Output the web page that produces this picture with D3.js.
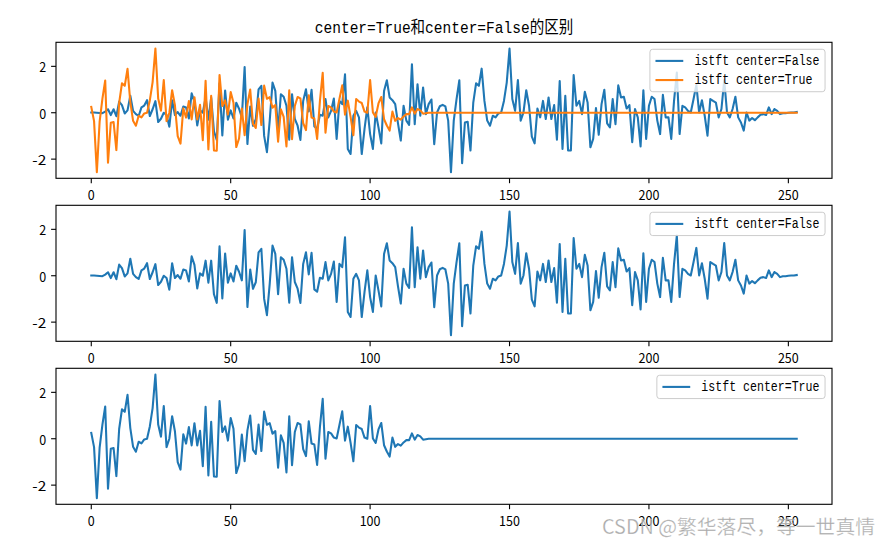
<!DOCTYPE html>
<html><head><meta charset="utf-8">
<script src="https://cdn.jsdelivr.net/npm/d3@7"></script>
<style>body{margin:0;background:#fff}svg{display:block}</style>
</head><body><svg id="c" width="890" height="546"></svg>
<script>
// ---------------- data ----------------
const centerFalse = [
 0.01, 0.01, 0.00, -0.01, -0.02, 0.05, 0.15, -0.10, 0.15, -0.15,
 0.48, 0.33, -0.03, 0.10, 0.73, 0.08, -0.06, -0.14, 0.23, 0.31,
 0.54, -0.14, 0.15, 0.50, -0.40, -0.26, 0.00, -0.10, -0.60, 0.54,
 -0.10, 0.03, -0.13, 0.27, 0.23, -0.25, 0.84, 0.47, -0.55, 0.10,
 0.00, 0.65, -0.30, 0.65, -0.80, -1.17, 1.27, -0.98, 0.96, -0.30,
 0.10, -0.25, 0.43, 0.17, -0.20, 1.97, -1.35, 0.27, -0.56, -0.28,
 1.01, 1.16, -1.00, -1.70, -0.34, 1.30, 0.94, -0.80, 0.80, 0.69,
 0.30, -1.16, 0.80, -0.27, -0.56, -1.17, 0.51, 1.01, 0.06, 0.99,
 -0.59, -0.69, -0.09, -0.13, 0.59, -0.20, 0.08, 0.61, -1.13, 0.51,
 0.37, 1.66, -1.56, -1.78, -0.13, 0.08, -0.20, -1.78, -0.70, 0.23,
 -0.92, -1.56, 0.01, -0.63, -1.32, 0.94, 1.40, 0.66, 0.54, 0.37,
 -0.46, -1.20, 0.30, -0.34, -0.52, 2.09, -0.49, 1.23, -0.13, 1.09,
 -0.06, 0.37, 0.57, -1.36, 0.01, 0.28, 0.34, 0.27, -0.34, -2.56,
 -0.34, 0.59, 1.40, -2.18, -0.42, -0.39, -1.63, 0.44, 1.27, 1.16,
 1.90, 0.51, -0.34, -0.56, -0.13, -0.20, -0.03, 0.01, 0.51, 1.30,
 2.77, 0.59, 0.08, 1.41, -0.34, 0.01, 0.97, 0.30, -1.03, -1.32,
 0.18, -0.20, 0.51, -0.27, 0.66, -0.27, 0.33, -1.16, 1.37, -1.56,
 0.73, -1.63, -1.63, 1.62, 0.30, 0.51, -0.06, 0.90, 0.44, -1.49,
 -1.13, 0.20, -0.95, 0.37, 0.99, -0.46, -0.63, 0.59, -0.49, 1.18,
 0.66, 0.69, 0.18, 0.33, -1.27, 0.16, -0.20, -1.45, 0.97, -1.13,
 0.30, 0.69, 0.59, -0.34, -0.92, 0.77, -0.20, -0.20, -1.13, 0.51,
 1.73, -0.92, 0.30, 0.23, 0.08, 0.01, 0.59, 1.20, 0.01, 0.54,
 -0.13, -0.99, 0.59, 0.51, 0.44, -0.20, 0.16, 1.41, 0.01, -0.20,
 0.16, 0.69, -0.20, -0.42, -0.77, 0.01, -0.34, -0.23, -0.32, -0.20,
 -0.09, -0.06, -0.10, 0.23, -0.06, 0.16, 0.08, -0.06, -0.02, -0.02,
 0.00, 0.01, 0.01, 0.03
];
const centerTrue = [
 0.25, -0.36, -2.56, -0.38, 0.61, 1.39, -2.15, -0.43, -0.40, -1.61,
 0.42, 1.27, 1.16, 1.89, 0.46, -0.35, -0.56, -0.13, -0.20, -0.03,
 0.00, 0.53, 1.32, 2.77, 0.61, 0.09, 1.41, -0.36, 0.00, 0.97,
 0.32, -1.01, -1.33, 0.19, -0.21, 0.50, -0.29, 0.67, -0.29, 0.34,
 -1.18, 1.38, -1.58, 0.73, -1.63, -1.64, 1.63, 0.29, 0.53, -0.08,
 0.89, 0.43, -1.48, -1.11, 0.18, -0.97, 0.36, 1.00, -0.48, -0.65,
 0.61, -0.53, 1.17, 0.60, 0.67, 0.22, 0.33, -1.25, 0.15, -0.18,
 -1.45, 0.97, -1.14, 0.29, 0.68, 0.62, -0.45, -0.75, 0.75, -0.21,
 -0.25, -1.13, 0.50, 1.72, -0.86, 0.29, 0.23, 0.05, 0.01, 0.59,
 1.18, -0.08, 0.52, -0.18, -0.97, 0.59, 0.48, 0.42, 0.05, 0.00,
 1.41, 0.01, -0.18, 0.40, 0.68, -0.28, -0.55, -0.77, 0.05, -0.35,
 -0.23, -0.30, -0.16, -0.06, -0.06, 0.23, -0.04, 0.16, 0.10, -0.04,
 -0.02, 0.00, 0, 0, 0, 0, 0, 0, 0, 0,
 0, 0, 0, 0, 0, 0, 0, 0, 0, 0,
 0, 0, 0, 0, 0, 0, 0, 0, 0, 0,
 0, 0, 0, 0, 0, 0, 0, 0, 0, 0,
 0, 0, 0, 0, 0, 0, 0, 0, 0, 0,
 0, 0, 0, 0, 0, 0, 0, 0, 0, 0,
 0, 0, 0, 0, 0, 0, 0, 0, 0, 0,
 0, 0, 0, 0, 0, 0, 0, 0, 0, 0,
 0, 0, 0, 0, 0, 0, 0, 0, 0, 0,
 0, 0, 0, 0, 0, 0, 0, 0, 0, 0,
 0, 0, 0, 0, 0, 0, 0, 0, 0, 0,
 0, 0, 0, 0, 0, 0, 0, 0, 0, 0,
 0, 0, 0, 0, 0, 0, 0, 0, 0, 0,
 0, 0, 0, 0
];
const xTicks = [0, 50, 100, 150, 200, 250];
const yTicks = [-2, 0, 2];
const titleText = "center=True和center=False的区别";
const labelFalse = "istft center=False";
const labelTrue = "istft center=True";
const watermarkText = "CSDN @繁华落尽，等一世真情";
const colorFalse = "#1f77b4";
const colorTrue = "#ff7f0e";

// ---------------- layout ----------------
const svg = d3.select("#c");
const W = 890, H = 546;
svg.append("rect").attr("width", W).attr("height", H).attr("fill", "#fff");
const FONT = "'Noto Sans CJK SC','Noto Sans',sans-serif";
const MONO = "'Liberation Mono','DejaVu Sans Mono','Noto Sans CJK SC',monospace";
const FS = 13.9;           // 10pt
const axLeft = 56, axRight = 832, axH = 136;
const panelTops = [42.3, 205.3, 368.3];

// SimHei-like metrics: latin half width, CJK full width
function simWidth(s, fs) {
  let w = 0;
  for (const ch of s) w += /[\u2E80-\uFFEF]/.test(ch) ? fs : fs * 0.5;
  return w;
}
function addText(g, s, x, y, fs, anchor, opts = {}) {
  return g.append("text").attr("x", x).attr("y", y)
    .attr("font-family", opts.family || FONT).attr("font-size", fs)
    .attr("text-anchor", anchor).attr("dominant-baseline", "central")
    .attr("fill", opts.fill || "#000")
    .attr("textLength", opts.width || simWidth(s, fs))
    .attr("lengthAdjust", "spacingAndGlyphs")
    .text(s);
}

const n = centerFalse.length;
const x = d3.scaleLinear().domain([0 - (n - 1) * 0.05, (n - 1) * 1.05]).range([axLeft, axRight]);

const panels = [
  { series: [{ v: centerFalse, c: colorFalse, label: labelFalse }, { v: centerTrue, c: colorTrue, label: labelTrue }] },
  { series: [{ v: centerFalse, c: colorFalse, label: labelFalse }] },
  { series: [{ v: centerTrue, c: colorFalse, label: labelTrue }] }
];

panels.forEach((p, pi) => {
  const top = panelTops[pi], bottom = top + axH;
  const all = p.series.flatMap(s => s.v);
  const [mn, mx] = d3.extent(all);
  const pad = (mx - mn) * 0.05;
  const y = d3.scaleLinear().domain([mn - pad, mx + pad]).range([bottom, top]);
  const g = svg.append("g");

  p.series.forEach(s => {
    const line = d3.line().x((d, i) => x(i)).y(d => y(d));
    g.append("path").datum(s.v).attr("d", line)
      .attr("fill", "none").attr("stroke", s.c).attr("stroke-width", 2.08)
      .attr("stroke-linejoin", "round").attr("stroke-linecap", "square");
  });

  g.append("rect").attr("x", axLeft).attr("y", top).attr("width", axRight - axLeft).attr("height", axH)
    .attr("fill", "none").attr("stroke", "#000").attr("stroke-width", 1.1);

  xTicks.forEach(t => {
    g.append("line").attr("x1", x(t)).attr("x2", x(t)).attr("y1", bottom).attr("y2", bottom + 4.9)
      .attr("stroke", "#000").attr("stroke-width", 1.1);
    addText(g, String(t), x(t), bottom + 15.4, FS, "middle");
  });
  yTicks.forEach(t => {
    g.append("line").attr("x1", axLeft - 4.9).attr("x2", axLeft).attr("y1", y(t)).attr("y2", y(t))
      .attr("stroke", "#000").attr("stroke-width", 1.1);
    addText(g, String(t), axLeft - 9.8, y(t), FS, "end");
  });

  // legend
  const bp = 0.4 * FS, hl = 2.0 * FS, htp = 0.8 * FS;
  const tw = d3.max(p.series, s => simWidth(s.label, FS));
  const lw = 2 * bp + hl + htp + tw;
  const rowH = 12.2, rowGap = 0.5 * FS;
  const lh = 2 * bp + p.series.length * rowH + (p.series.length - 1) * rowGap;
  const lRight = axRight - 0.5 * FS, lTop = top + 0.5 * FS;
  const lLeft = lRight - lw;
  g.append("rect").attr("x", lLeft).attr("y", lTop).attr("width", lw).attr("height", lh)
    .attr("rx", 2.8).attr("fill", "#fff").attr("fill-opacity", 0.8)
    .attr("stroke", "#cccccc").attr("stroke-width", 1);
  p.series.forEach((s, i) => {
    const cy = lTop + bp + rowH / 2 + i * (rowH + rowGap);
    g.append("line").attr("x1", lLeft + bp).attr("x2", lLeft + bp + hl).attr("y1", cy).attr("y2", cy)
      .attr("stroke", s.c).attr("stroke-width", 2.08);
    addText(g, s.label, lLeft + bp + hl + htp, cy, FS, "start", { family: MONO });
  });
});

// title
addText(svg, titleText, (axLeft + axRight) / 2, 28.3, 16.67, "middle", { family: MONO });

// watermark
svg.append("text").attr("x", 875).attr("y", 525)
  .attr("font-family", FONT).attr("font-size", 19.7)
  .attr("text-anchor", "end").attr("dominant-baseline", "central")
  .attr("fill", "#9a9a9a").attr("fill-opacity", 0.85)
  .attr("stroke", "#ffffff").attr("stroke-opacity", 0.5).attr("stroke-width", 0.6)
  .attr("textLength", 273).attr("lengthAdjust", "spacingAndGlyphs")
  .text(watermarkText);
</script>
</body></html>
